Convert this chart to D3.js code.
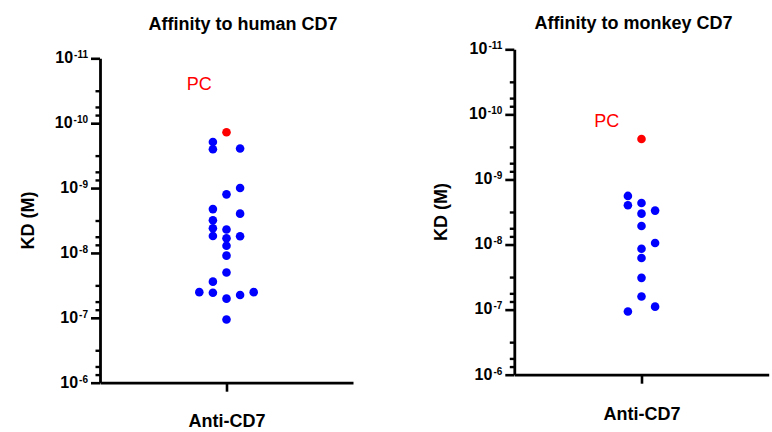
<!DOCTYPE html>
<html><head><meta charset="utf-8">
<script src="https://cdn.jsdelivr.net/npm/d3@7"></script>
<style>
body{margin:0;background:#fff;}
text{font-family:"Liberation Sans",Arial,sans-serif;}
</style></head><body>
<svg id="chart" width="772" height="432"></svg>
<script>
// values (KD in M); lane = column slot of the scatter
const humanKD   = [1.95e-10, 2.52e-10, 2.45e-10, 1.00e-9, 1.25e-9, 2.11e-9, 2.48e-9, 3.13e-9,
                   4.16e-9, 4.36e-9, 5.47e-9, 5.53e-9, 5.93e-9, 7.74e-9, 1.10e-8, 2.00e-8,
                   2.77e-8, 4.02e-8, 4.10e-8, 5.06e-8, 4.44e-8, 4.02e-8, 1.06e-7];
const humanLane = [-1, -1, 1, 1, 0, -1, 1, -1, -1, 0, -1, 1, 0, 0, 0, 0, -1, -2, -1, 0, 1, 2, 0];
const humanPC   = 1.38e-10;

const monkeyKD   = [1.79e-9, 2.49e-9, 2.30e-9, 3.35e-9, 3.01e-9, 5.18e-9, 9.45e-9, 1.16e-8,
                    1.61e-8, 3.25e-8, 6.27e-8, 9.0e-8, 1.07e-7];
const monkeyLane = [-1, -1, 0, 0, 1, 0, 1, 0, 0, 0, 0, 1, -1];
const monkeyPC   = 2.39e-10;

const category      = ["Anti-CD7"];
const majorTicks    = [1e-11, 1e-10, 1e-9, 1e-8, 1e-7, 1e-6];
const tickExponents = ["-11", "-10", "-9", "-8", "-7", "-6"];
const minorSteps    = [3.162, 5.623, 7.499];

const panels = [
  { title: "Affinity to human CD7", kd: humanKD, lane: humanLane, pc: humanPC,
    pcLabel: { kd: 3.08e-11, lane: -2.0 },
    left: 100, right: 353, top: 58.3, bottom: 382.7,
    titleX: 243, titleY: 30, ylabX: 34, xlabDy: 44 },
  { title: "Affinity to monkey CD7", kd: monkeyKD, lane: monkeyLane, pc: monkeyPC,
    pcLabel: { kd: 1.56e-10, lane: -2.55 },
    left: 514.3, right: 768.7, top: 49.3, bottom: 374.7,
    titleX: 633.5, titleY: 29, ylabX: 447, xlabDy: 45 }
];

const minorTicks = [];
majorTicks.slice(0, -1).forEach(t => minorSteps.forEach(s => minorTicks.push(t * s)));

const svg = d3.select("#chart");

panels.forEach(p => {
  const g = svg.append("g");

  const y = d3.scaleLog().domain([1e-11, 1e-6]).range([p.top, p.bottom]);
  const x = d3.scalePoint().domain(category).range([p.left, p.right]).padding(0.5);
  const laneX = d3.scaleLinear().domain([0, 1]).range([0, 13.6]);

  // title
  g.append("text")
    .attr("x", p.titleX).attr("y", p.titleY)
    .attr("text-anchor", "middle")
    .style("font-size", "18px").style("font-weight", "700")
    .text(p.title);

  // y axis (major)
  const yAxisG = g.append("g")
    .attr("transform", `translate(${p.left},0)`)
    .call(d3.axisLeft(y).tickValues(majorTicks).tickSize(9).tickSizeOuter(0).tickFormat(""));
  yAxisG.select(".domain").attr("stroke-width", 2.8);
  yAxisG.selectAll(".tick line").attr("stroke-width", 2.6);
  yAxisG.selectAll(".tick text")
    .attr("x", -12).attr("dy", "0.27em")
    .attr("font-size", 16).style("font-size", "16px").style("font-weight", "700").attr("fill", "#000")
    .each(function (d, i) {
      const t = d3.select(this);
      t.append("tspan").text("10");
      t.append("tspan").attr("dx", 1).attr("dy", -5).style("font-size", "10px").text(tickExponents[i]);
    });

  // y axis (minor)
  const yMinorG = g.append("g")
    .attr("transform", `translate(${p.left},0)`)
    .call(d3.axisLeft(y).tickValues(minorTicks).tickSize(4.5).tickSizeOuter(0).tickFormat(""));
  yMinorG.select(".domain").remove();
  yMinorG.selectAll(".tick line").attr("stroke-width", 2.4);

  // x axis
  const xAxisG = g.append("g")
    .attr("transform", `translate(0,${p.bottom})`)
    .call(d3.axisBottom(x).tickSize(9).tickSizeOuter(0));
  xAxisG.select(".domain").attr("stroke-width", 2.8);
  xAxisG.selectAll(".tick line").attr("stroke-width", 2.6);
  xAxisG.selectAll(".tick text")
    .attr("y", p.xlabDy).attr("dy", 0)
    .style("font-size", "18px").style("font-weight", "700").attr("fill", "#000");

  // y label
  g.append("text")
    .attr("transform", `translate(${p.ylabX},${(p.top + p.bottom) / 2}) rotate(-90)`)
    .attr("text-anchor", "middle")
    .style("font-size", "18px").style("font-weight", "700")
    .text("KD (M)");

  // points
  const cx = x(category[0]);
  g.selectAll(".dot")
    .data(p.kd.map((v, i) => ({ v, lane: p.lane[i] })))
    .enter().append("circle")
      .attr("class", "dot")
      .attr("cx", d => cx + laneX(d.lane))
      .attr("cy", d => y(d.v))
      .attr("r", 4.3)
      .attr("fill", "#0000ff");

  g.append("circle")
    .attr("cx", cx).attr("cy", y(p.pc))
    .attr("r", 4.3).attr("fill", "#ff0000");

  g.append("text")
    .attr("x", cx + laneX(p.pcLabel.lane))
    .attr("y", y(p.pcLabel.kd))
    .attr("text-anchor", "middle")
    .style("font-size", "18px").attr("fill", "#ff0000")
    .text("PC");
});
</script>
</body></html>
